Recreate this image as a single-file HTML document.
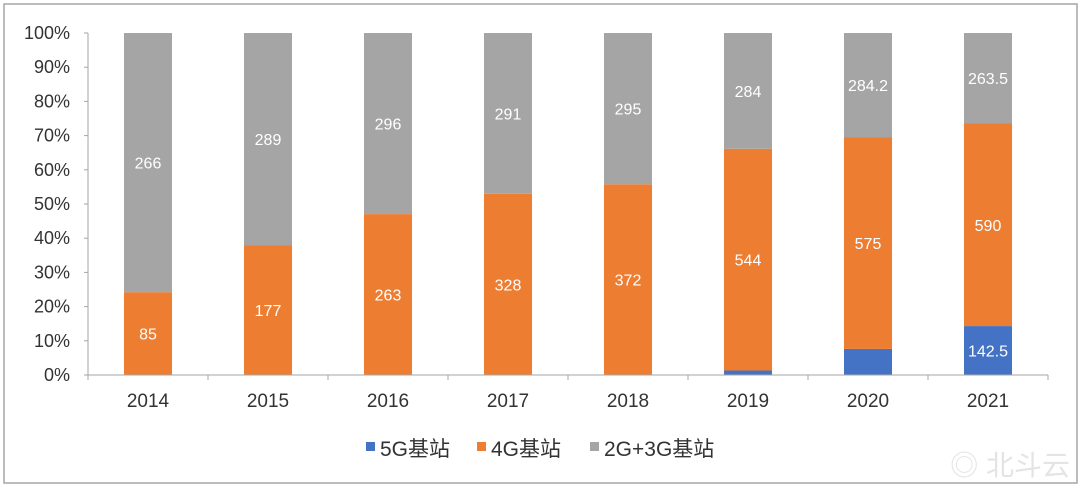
<!DOCTYPE html>
<html><head><meta charset="utf-8"><style>
body{margin:0;width:1080px;height:489px;background:#fff;overflow:hidden;font-family:"Liberation Sans","Noto Sans CJK SC",sans-serif}
</style></head><body>
<svg width="1080" height="489" id="chart">
<rect x="4" y="4" width="1073" height="479" fill="#fff" stroke="#a6a6a6" stroke-width="1.5"/>
<g id="plot"></g>
<g font-size="21" fill="#333">
<rect x="366" y="442" width="9" height="9" fill="#4472c4"/>
<text x="380" y="456">5G基站</text>
<rect x="477" y="442" width="9" height="9" fill="#ed7d31"/>
<text x="491" y="456">4G基站</text>
<rect x="590" y="442" width="9" height="9" fill="#a5a5a5"/>
<text x="604" y="456">2G+3G基站</text>
</g>
<text x="1070" y="475" text-anchor="end" font-size="28" fill="#e4e4e4">◎ 北斗云</text>
</svg>
<script>
const years=["2014","2015","2016","2017","2018","2019","2020","2021"];
const g5=[0,0,0,0,0,11,71,142.5];
const g4=[85,177,263,328,372,544,575,590];
const g23=[266,289,296,291,295,284,284.2,263.5];
const label5=["","","","","","","","142.5"];
const yTicks=[0,10,20,30,40,50,60,70,80,90,100];
const NS="http://www.w3.org/2000/svg";
const X0=88,X1=1048,Y0=375,Y1=33,step=(X1-X0)/years.length,bw=48;
const xc=i=>X0+step*(i+0.5);
const yp=p=>Y0-(Y0-Y1)*p/100;
const plot=document.getElementById('plot');
function el(t,a){const e=document.createElementNS(NS,t);for(const k in a)e.setAttribute(k,a[k]);plot.appendChild(e);return e;}
yTicks.forEach(t=>{
 const tl=el('line',{x1:84,x2:X0,y1:yp(t),y2:yp(t),stroke:'#a6a6a6'});
 
 
 const tx=el('text',{x:70,y:yp(t)+6,'text-anchor':'end','font-size':18,fill:'#333'});
 tx.textContent=t+'%';
 
 
});
const ya=el('line',{x1:X0,x2:X0,y1:Y1,y2:Y0,stroke:'#a6a6a6'});


const series=[[g5,'#4472c4','5g',label5],[g4,'#ed7d31','4g',g4],[g23,'#a5a5a5','2g3g',g23]];
years.forEach((yr,i)=>{
 const tot=g5[i]+g4[i]+g23[i];let acc=0;
 series.forEach(([arr,col,nm,lab])=>{
  const v=arr[i];if(v<=0)return;
  const yb=yp(acc/tot*100),yt=yp((acc+v)/tot*100);acc+=v;
  const r=el('rect',{x:xc(i)-bw/2,y:yt,width:bw,height:yb-yt,fill:col});
  
  
  if(lab[i]!==""&&lab[i]!==undefined){
   const t=el('text',{x:xc(i),y:(yt+yb)/2+6,'text-anchor':'middle','font-size':16,fill:'#fff'});
   t.textContent=lab[i];
   
   
  }
 });
 const xt=el('text',{x:xc(i),y:407,'text-anchor':'middle','font-size':19,fill:'#333'});
 xt.textContent=yr;
 
 
});
for(let k=0;k<=years.length;k++){
 const tk=el('line',{x1:X0+step*k,x2:X0+step*k,y1:Y0,y2:Y0+5,stroke:'#a6a6a6'});
 
 
}
const xa=el('line',{x1:X0,x2:X1,y1:Y0,y2:Y0,stroke:'#a6a6a6'});


</script>
</body></html>
